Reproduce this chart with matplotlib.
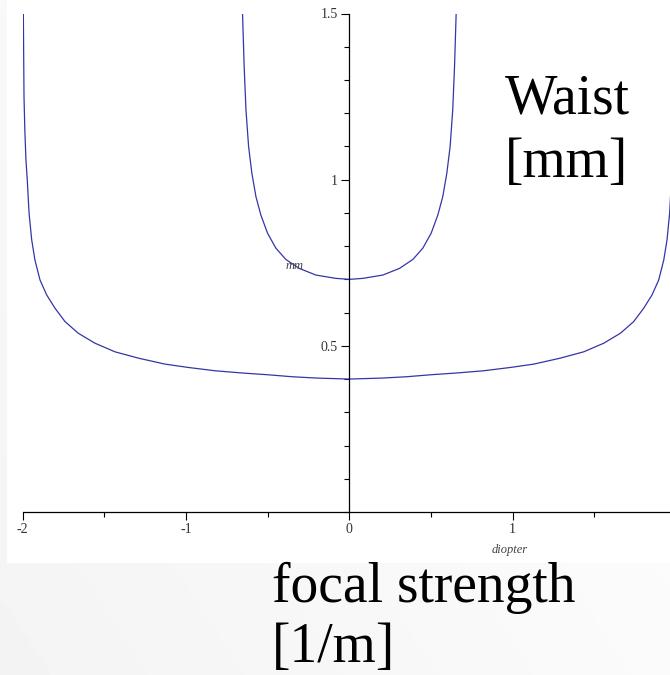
import numpy as np
import matplotlib
matplotlib.use("Agg")
import matplotlib.pyplot as plt
from matplotlib.ticker import MultipleLocator, FixedLocator, FixedFormatter
from matplotlib.patches import Rectangle

# focal strength in diopter (1/m) and resulting waist in mm
wide_x = [-1.996, -1.992, -1.987, -1.980, -1.972, -1.961, -1.945, -1.925, -1.894,
          -1.853, -1.802, -1.741, -1.660, -1.558, -1.435, -1.292, -1.129, -0.987,
          -0.823, -0.650, -0.500, -0.350, -0.200, 0.000,
          0.200, 0.350, 0.500, 0.650, 0.823, 0.987, 1.129, 1.292, 1.435, 1.558,
          1.660, 1.741, 1.802, 1.853, 1.894, 1.925, 1.945, 1.961, 1.972, 1.980,
          1.987, 1.992, 1.996]
wide_w = [1.500, 1.250, 1.150, 1.058, 0.999, 0.899, 0.819, 0.758, 0.698,
          0.653, 0.613, 0.573, 0.538, 0.508, 0.482, 0.463, 0.445, 0.435,
          0.425, 0.418, 0.413, 0.407, 0.403, 0.400,
          0.403, 0.407, 0.413, 0.418, 0.425, 0.435, 0.445, 0.463, 0.482, 0.508,
          0.538, 0.573, 0.613, 0.653, 0.698, 0.758, 0.819, 0.899, 0.999, 1.058,
          1.150, 1.250, 1.500]

narrow_x = [-0.654, -0.644, -0.633, -0.617, -0.597, -0.572, -0.542, -0.501,
            -0.450, -0.389, -0.307, -0.205, -0.083, 0.000,
            0.083, 0.205, 0.307, 0.389, 0.450, 0.501, 0.542, 0.572,
            0.597, 0.617, 0.633, 0.644, 0.654]
narrow_w = [1.500, 1.340, 1.210, 1.100, 1.020, 0.949, 0.894, 0.839,
            0.794, 0.760, 0.733, 0.713, 0.703, 0.700,
            0.703, 0.713, 0.733, 0.760, 0.794, 0.839, 0.894, 0.949,
            1.020, 1.100, 1.210, 1.340, 1.500]

x_ticks = [-2, -1, 0, 1, 2]
x_labels = ["-2", "-1", "0", "1", "2"]
y_ticks = [0.5, 1.0, 1.5]
y_labels = ["0.5", "1", "1.5"]

W, H = 670, 675
fig = plt.figure(figsize=(W / 100, H / 100), dpi=100)

# soft grey slide background
bg = fig.add_axes([0, 0, 1, 1], zorder=-10)
gx, gy = np.meshgrid(np.linspace(0, 1, 200), np.linspace(0, 1, 200))
grad = 0.955 + 0.045 * np.clip(0.6 * gx + 0.4 * gy, 0, 1)
bg.imshow(grad, cmap="gray", vmin=0, vmax=1, extent=[0, 1, 0, 1],
          aspect="auto", origin="lower")
bg.axis("off")

# white plot canvas
fig.patches.append(Rectangle((7 / W, 1 - 563 / H), 1 - 7 / W, 563 / H,
                             transform=fig.transFigure, facecolor="white",
                             edgecolor="none", zorder=-5))

left_px, right_px = 22.7, 676.0
top_px, bottom_px = 13.5, 512.0
ax = fig.add_axes([left_px / W, 1 - bottom_px / H,
                   (right_px - left_px) / W, (bottom_px - top_px) / H])
ax.set_facecolor("none")

line_color = "#3535a8"
ax.plot(wide_x, wide_w, color=line_color, lw=0.9, solid_joinstyle="round")
ax.plot(narrow_x, narrow_w, color=line_color, lw=0.9, solid_joinstyle="round")

ax.set_xlim(-2, 2)
ax.set_ylim(0, 1.5)

for s in ["top", "right"]:
    ax.spines[s].set_visible(False)
ax.spines["left"].set_position(("data", 0))
ax.spines["bottom"].set_position(("data", 0))
for s in ["left", "bottom"]:
    ax.spines[s].set_linewidth(0.9)
    ax.spines[s].set_color("black")

serif = ["Liberation Serif", "DejaVu Serif"]
ax.xaxis.set_major_locator(FixedLocator(x_ticks))
ax.xaxis.set_major_formatter(FixedFormatter(x_labels))
ax.xaxis.set_minor_locator(MultipleLocator(0.5))
ax.yaxis.set_major_locator(FixedLocator(y_ticks))
ax.yaxis.set_major_formatter(FixedFormatter(y_labels))
ax.yaxis.set_minor_locator(MultipleLocator(0.1))
ax.tick_params(which="major", direction="out", length=5.5, width=0.8,
               color="black", labelcolor="#333333", pad=2.5)
ax.tick_params(which="minor", direction="out", length=3.5, width=0.8,
               color="black")
ax.tick_params(axis="y", which="major", pad=3)
for lab in ax.get_xticklabels() + ax.get_yticklabels():
    lab.set_fontfamily(serif)
    lab.set_fontsize(10)

def px(x, y):
    return x / W, 1 - y / H

small = dict(family=serif, style="italic", size=9, color="#444444")
fig.text(*px(295, 266), "mm", ha="center", va="center", **small)
fig.text(*px(510, 550), "diopter", ha="center", va="center", **small)

big = dict(family=serif, size=40, color="black")
fig.text(*px(505, 113), "Waist", ha="left", va="baseline", **big)
fig.text(*px(505, 177), "[mm]", ha="left", va="baseline", **big)
fig.text(*px(272, 602), "focal strength", ha="left", va="baseline", **big)
fig.text(*px(272, 662), "[1/m]", ha="left", va="baseline", **big)

fig.savefig("out.png", dpi=100)
